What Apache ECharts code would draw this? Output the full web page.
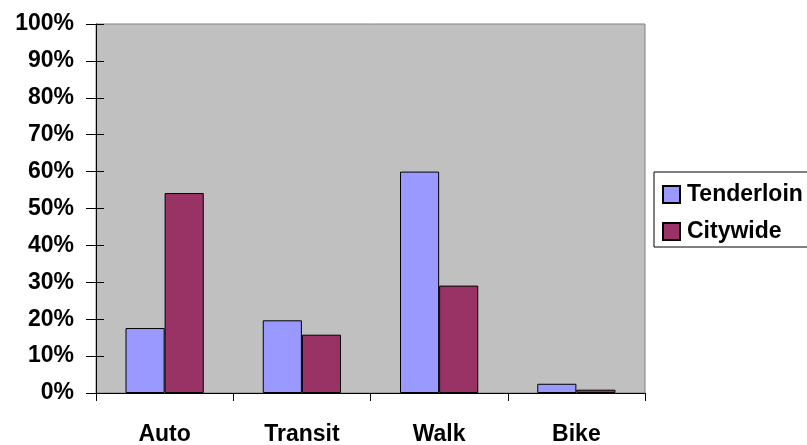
<!DOCTYPE html>
<html>
<head>
<meta charset="utf-8">
<script src="https://cdn.jsdelivr.net/npm/echarts@6/dist/echarts.min.js"></script>
<style>
html,body{margin:0;padding:0;background:#fff;}
#chart{width:807px;height:445px;}
</style>
</head>
<body>
<div id="chart"></div>
<script>
// ---- data ----
const categories = ['Auto', 'Transit', 'Walk', 'Bike'];
const seriesNames = ['Tenderloin', 'Citywide'];
const tenderloin = [17.6, 19.7, 60.0, 2.5];
const citywide = [54.2, 15.8, 29.1, 0.9];
const yTicks = [0, 10, 20, 30, 40, 50, 60, 70, 80, 90, 100];

// ---- font detection ----
function hasFont(name) {
  const c = document.createElement('canvas').getContext('2d');
  const s = 'Tenderloin Citywide 100%';
  c.font = 'bold 28px monospace';
  const a = c.measureText(s).width;
  c.font = 'bold 28px "' + name + '", monospace';
  const b = c.measureText(s).width;
  return Math.abs(a - b) > 0.5;
}
let fontFamily, fontSize;
if (hasFont('Liberation Sans Narrow')) { fontFamily = '"Liberation Sans Narrow"'; fontSize = 28; }
else if (hasFont('Arial Narrow')) { fontFamily = '"Arial Narrow"'; fontSize = 28; }
else { fontFamily = '"Liberation Sans", Arial'; fontSize = 23; }

const txt = { fontFamily: fontFamily, fontSize: fontSize, fontWeight: 'bold', color: '#000' };

const chart = echarts.init(document.getElementById('chart'), null, { renderer: 'canvas' });
chart.setOption({
  animation: false,
  backgroundColor: '#fff',
  grid: {
    left: 96, right: 162, top: 24, bottom: 52,
    show: true, backgroundColor: '#c0c0c0', borderColor: '#808080', borderWidth: 1,
    outerBoundsMode: 'none', containLabel: false
  },
  legend: {
    orient: 'vertical',
    left: 654, top: 172,
    padding: [11, 12, 4, 8],
    itemWidth: 17, itemHeight: 17, itemGap: 14,
    borderColor: '#000', borderWidth: 1,
    icon: 'rect',
    data: seriesNames,
    textStyle: Object.assign({}, txt, { padding: [0, 0, 0, 2] })
  },
  xAxis: {
    type: 'category',
    data: categories,
    axisLine: { lineStyle: { color: '#000', width: 1 } },
    axisTick: { show: true, length: 8, lineStyle: { color: '#000' } },
    axisLabel: Object.assign({}, txt, { margin: 30 }),
    splitLine: { show: false }
  },
  yAxis: [{
    type: 'value',
    min: yTicks[0], max: yTicks[yTicks.length - 1], interval: 10,
    axisLine: { show: true, lineStyle: { color: '#000', width: 1 } },
    axisTick: { show: true, length: 10, lineStyle: { color: '#000' } },
    axisLabel: Object.assign({}, txt, { margin: 22, formatter: v => v + '%' }),
    splitLine: { show: false }
  }, {
    type: 'value',
    position: 'left',
    min: yTicks[0], max: yTicks[yTicks.length - 1], interval: 10,
    axisLine: { show: false },
    axisTick: { show: true, inside: true, length: 8, lineStyle: { color: '#000' } },
    axisLabel: { show: false },
    splitLine: { show: false }
  }],
  series: [{
    name: seriesNames[0], type: 'bar', data: tenderloin,
    barGap: '0%', barCategoryGap: '43%',
    itemStyle: { color: '#9999ff', borderColor: '#000', borderWidth: 1 }
  }, {
    name: seriesNames[1], type: 'bar', data: citywide,
    itemStyle: { color: '#993366', borderColor: '#000', borderWidth: 1 }
  }]
});
</script>
</body>
</html>
